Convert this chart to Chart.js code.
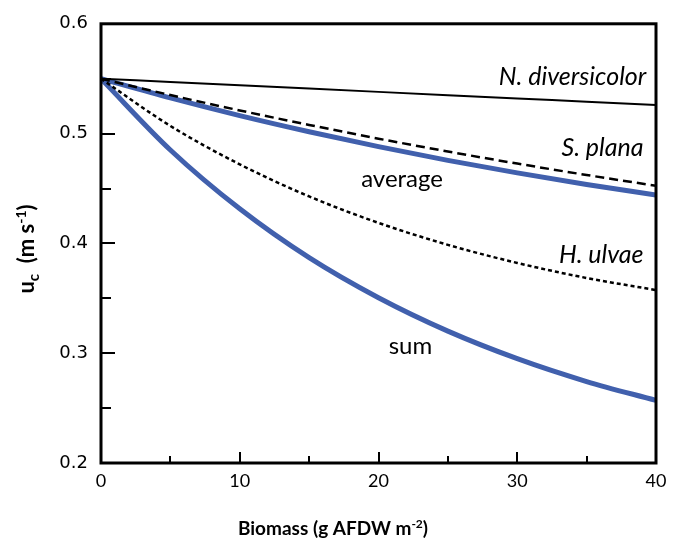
<!DOCTYPE html>
<html>
<head>
<meta charset="utf-8">
<script src="https://cdn.jsdelivr.net/npm/chart.js@4"></script>
<style>
  html, body { margin: 0; padding: 0; background: #fff; }
  #wrap { width: 683px; height: 539px; position: relative; }
</style>
</head>
<body>
<div id="wrap"><canvas id="c" width="683" height="539"></canvas></div>
<script>
// ---- data ----
const biomass  = [0, 5, 10, 15, 20, 25, 30, 35, 40];
const nDivers  = [0.55, 0.547, 0.544, 0.541, 0.538, 0.535, 0.532, 0.529, 0.526];
const sPlana   = [0.55, 0.5351, 0.5211, 0.5079, 0.4954, 0.4837, 0.4727, 0.4623, 0.4525];
const hUlvae   = [0.55, 0.507, 0.472, 0.4428, 0.4187, 0.3987, 0.3822, 0.3685, 0.3575];
const avgVals  = [0.55, 0.5325, 0.5164, 0.5017, 0.4881, 0.4756, 0.4642, 0.4537, 0.444];
const sumVals  = [0.55, 0.4851, 0.4315, 0.387, 0.3505, 0.3201, 0.295, 0.2742, 0.257];
const yTicks   = [0.2, 0.3, 0.4, 0.5, 0.6];
const xTicks   = [0, 10, 20, 30, 40];

const toPts = arr => arr.map((v, i) => ({ x: biomass[i], y: v }));
const BLUE = '#4160AD';

const labels = [
  { text: 'N. diversicolor', x: 39.3, y: 0.5439, align: 'right', italic: true },
  { text: 'S. plana',        x: 39.1, y: 0.4796, align: 'right', italic: true },
  { text: 'H. ulvae',        x: 39.1, y: 0.3819, align: 'right', italic: true },
  { text: 'average',         x: 21.7, y: 0.4516, align: 'center', italic: false },
  { text: 'sum',             x: 22.3, y: 0.2995, align: 'center', italic: false }
];

function drawSegments(ctx, segs, cx, cy) {
  let total = 0;
  segs.forEach(s => { ctx.font = s.font; s.w = ctx.measureText(s.text).width; total += s.w; });
  let x = cx - total / 2;
  ctx.textAlign = 'left';
  ctx.textBaseline = 'alphabetic';
  segs.forEach(s => { ctx.font = s.font; ctx.fillText(s.text, x, cy + (s.dy || 0)); x += s.w; });
}

const decor = {
  id: 'decor',
  afterDraw(chart) {
    const { ctx, chartArea: a, scales: { x, y } } = chart;
    ctx.save();
    ctx.strokeStyle = '#000';
    ctx.fillStyle = '#000';
    // inward ticks
    ctx.lineWidth = 2;
    for (let v = 0.25; v < 0.6; v += 0.05) {
      const py = Math.round(y.getPixelForValue(v));
      const major = Math.abs(v * 10 - Math.round(v * 10)) < 1e-6;
      ctx.beginPath();
      ctx.moveTo(a.left, py);
      ctx.lineTo(a.left + (major ? 14 : 10), py);
      ctx.stroke();
    }
    for (let v = 5; v < 40; v += 5) {
      const px = Math.round(x.getPixelForValue(v));
      const major = v % 10 === 0;
      ctx.beginPath();
      ctx.moveTo(px, a.bottom);
      ctx.lineTo(px, a.bottom - (major ? 11 : 7));
      ctx.stroke();
    }
    // frame
    ctx.lineWidth = 3;
    ctx.strokeRect(a.left, a.top, a.right - a.left, a.bottom - a.top);
    // curve labels
    labels.forEach(l => {
      ctx.font = l.italic ? 'italic 25px Lato' : '24px Lato';
      ctx.textAlign = l.align;
      ctx.textBaseline = 'alphabetic';
      ctx.fillText(l.text, x.getPixelForValue(l.x), y.getPixelForValue(l.y));
    });
    // axis titles
    drawSegments(ctx, [
      { text: 'Biomass (g AFDW m', font: 'bold 19px Lato' },
      { text: '-2', font: 'bold 12px Lato', dy: -7 },
      { text: ')', font: 'bold 19px Lato' }
    ], 333, 535);
    ctx.translate(34, 249);
    ctx.rotate(-Math.PI / 2);
    drawSegments(ctx, [
      { text: 'u', font: 'bold 22px Lato' },
      { text: 'c', font: 'bold 15px Lato', dy: 5 },
      { text: '  (m s', font: 'bold 22px Lato' },
      { text: '-1', font: 'bold 14px Lato', dy: -8 },
      { text: ')', font: 'bold 22px Lato' }
    ], 0, 0);
    ctx.restore();
  }
};

new Chart(document.getElementById('c'), {
  type: 'line',
  data: {
    datasets: [
      { label: 'N. diversicolor', data: toPts(nDivers), borderColor: '#000', borderWidth: 2, order: 1 },
      { label: 'S. plana', data: toPts(sPlana), borderColor: '#000', borderWidth: 2.5, borderDash: [9, 5], order: 1 },
      { label: 'H. ulvae', data: toPts(hUlvae), borderColor: '#000', borderWidth: 2.5, borderDash: [4, 3], order: 1 },
      { label: 'average', data: toPts(avgVals), borderColor: BLUE, borderWidth: 5, order: 2 },
      { label: 'sum', data: toPts(sumVals), borderColor: BLUE, borderWidth: 5, order: 2 }
    ]
  },
  options: {
    responsive: false,
    animation: false,
    devicePixelRatio: 1,
    layout: { padding: { top: 21, right: 27, left: 0, bottom: 0 } },
    elements: { point: { radius: 0 }, line: { cubicInterpolationMode: 'monotone', fill: false, borderCapStyle: 'butt' } },
    plugins: { legend: { display: false }, tooltip: { enabled: false } },
    scales: {
      x: {
        type: 'linear', min: 0, max: 40,
        afterBuildTicks: s => { s.ticks = xTicks.map(v => ({ value: v })); },
        afterFit: s => { s.height = 76; },
        grid: { display: false, drawTicks: false },
        border: { display: false },
        ticks: { color: '#000', font: { family: 'Lato', size: 18 }, padding: 7, maxRotation: 0 }
      },
      y: {
        type: 'linear', min: 0.2, max: 0.6,
        afterBuildTicks: s => { s.ticks = yTicks.map(v => ({ value: v })); },
        afterFit: s => { s.width = 101; },
        grid: { display: false, drawTicks: false },
        border: { display: false },
        ticks: { color: '#000', font: { family: 'DejaVu Sans', size: 18 }, padding: 13, callback: v => v.toFixed(1) }
      }
    }
  },
  plugins: [decor]
});
</script>
</body>
</html>
